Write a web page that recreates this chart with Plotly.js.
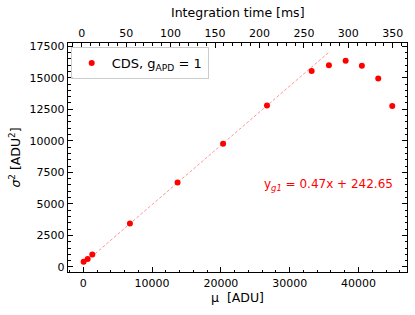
<!DOCTYPE html>
<html>
<head>
<meta charset="utf-8">
<script src="https://cdn.plot.ly/plotly-3.0.1.min.js"></script>
<style>html,body{margin:0;padding:0;background:#fff;}#chart{width:415px;height:315px;}</style>
</head>
<body>
<div id="chart"></div>
<script>
// Data
const mu = [50, 640, 1310, 6780, 13700, 20320, 26700, 33190, 35700, 38130, 40490, 42870, 44910];
const variance = [410, 635, 985, 3450, 6700, 9760, 12810, 15530, 15985, 16350, 15950, 14950, 12755];
const fitSlope = 0.47;
const fitIntercept = 242.65;
const fitRangeX = [50, 35600];
const timeTickLabels = [0, 50, 100, 150, 200, 250, 300, 350];
const seriesName = 'CDS, g<sub>APD</sub> = 1';

const fitY = fitRangeX.map(x => fitSlope * x + fitIntercept);

const FONT = 'DejaVu Sans, sans-serif';

const traces = [
  {
    x: fitRangeX, y: fitY, mode: 'lines', type: 'scatter',
    line: {color: 'rgba(255,60,60,0.55)', width: 1, dash: '3px,2px'},
    showlegend: false, hoverinfo: 'skip'
  },
  {
    x: mu, y: variance, mode: 'markers', type: 'scatter', name: seriesName,
    marker: {color: '#ff0000', size: 6}
  },
  {
    x: [], y: [], xaxis: 'x2', yaxis: 'y2', type: 'scatter', mode: 'markers',
    showlegend: false, hoverinfo: 'skip'
  }
];

const axisCommon = {
  showline: true, linecolor: '#000', linewidth: 1.3,
  ticks: 'inside', ticklen: 5, tickwidth: 1, tickcolor: '#000',
  showgrid: false, zeroline: false,
  tickfont: {family: FONT, size: 11, color: '#000'}
};

const yRange = [-397, 17754];

const layout = {
  width: 415, height: 315,
  margin: {l: 68, r: 8, t: 43, b: 43, pad: 0},
  paper_bgcolor: '#fff', plot_bgcolor: '#fff',
  font: {family: FONT, color: '#000'},
  showlegend: true,
  legend: {
    x: 0.008, y: 0.982, xanchor: 'left', yanchor: 'top',
    bgcolor: 'rgba(255,255,255,0.8)', bordercolor: '#cccccc', borderwidth: 1,
    font: {family: FONT, size: 13, color: '#000'}
  },
  xaxis: Object.assign({}, axisCommon, {
    range: [-2220, 47050], dtick: 10000, tick0: 0, tickformat: 'd',
    minor: {dtick: 2000, ticklen: 2.5, tickcolor: '#000', ticks: 'inside'},
    title: {text: 'μ  [ADU]', font: {family: FONT, size: 12.5, color: '#000'}, standoff: 4}
  }),
  xaxis2: Object.assign({}, axisCommon, {
    overlaying: 'x', side: 'top', anchor: 'y',
    range: [-15.4, 366], tickvals: timeTickLabels, tickformat: 'd',
    minor: {dtick: 10, ticklen: 2.5, tickcolor: '#000', ticks: 'inside'}
  }),
  yaxis: Object.assign({}, axisCommon, {
    range: yRange, dtick: 2500, tick0: 0, tickformat: 'd',
    minor: {dtick: 500, ticklen: 2.5, tickcolor: '#000', ticks: 'inside'},
    title: {text: '<i>σ</i><sup>2</sup> [ADU<sup>2</sup>]', font: {family: FONT, size: 12.5, color: '#000'}, standoff: 6}
  }),
  yaxis2: Object.assign({}, axisCommon, {
    overlaying: 'y', side: 'right', anchor: 'x',
    range: yRange, dtick: 2500, tick0: 0, showticklabels: false,
    minor: {dtick: 500, ticklen: 2.5, tickcolor: '#000', ticks: 'inside'}
  }),
  annotations: [
    {
      xref: 'paper', yref: 'paper', x: 0.5, y: 1.133, xanchor: 'center', yanchor: 'middle',
      text: 'Integration time [ms]', showarrow: false,
      font: {family: FONT, size: 12.5, color: '#000'}
    },
    {
      xref: 'paper', yref: 'paper', x: 0.5735, y: 0.379, xanchor: 'left', yanchor: 'middle',
      text: 'y<sub><i>g1</i></sub> = ' + fitSlope.toFixed(2) + 'x + ' + fitIntercept.toFixed(2),
      showarrow: false, font: {family: FONT, size: 12, color: '#ff0000'}
    }
  ]
};

Plotly.newPlot('chart', traces, layout, {displayModeBar: false, staticPlot: true});
</script>
</body>
</html>
